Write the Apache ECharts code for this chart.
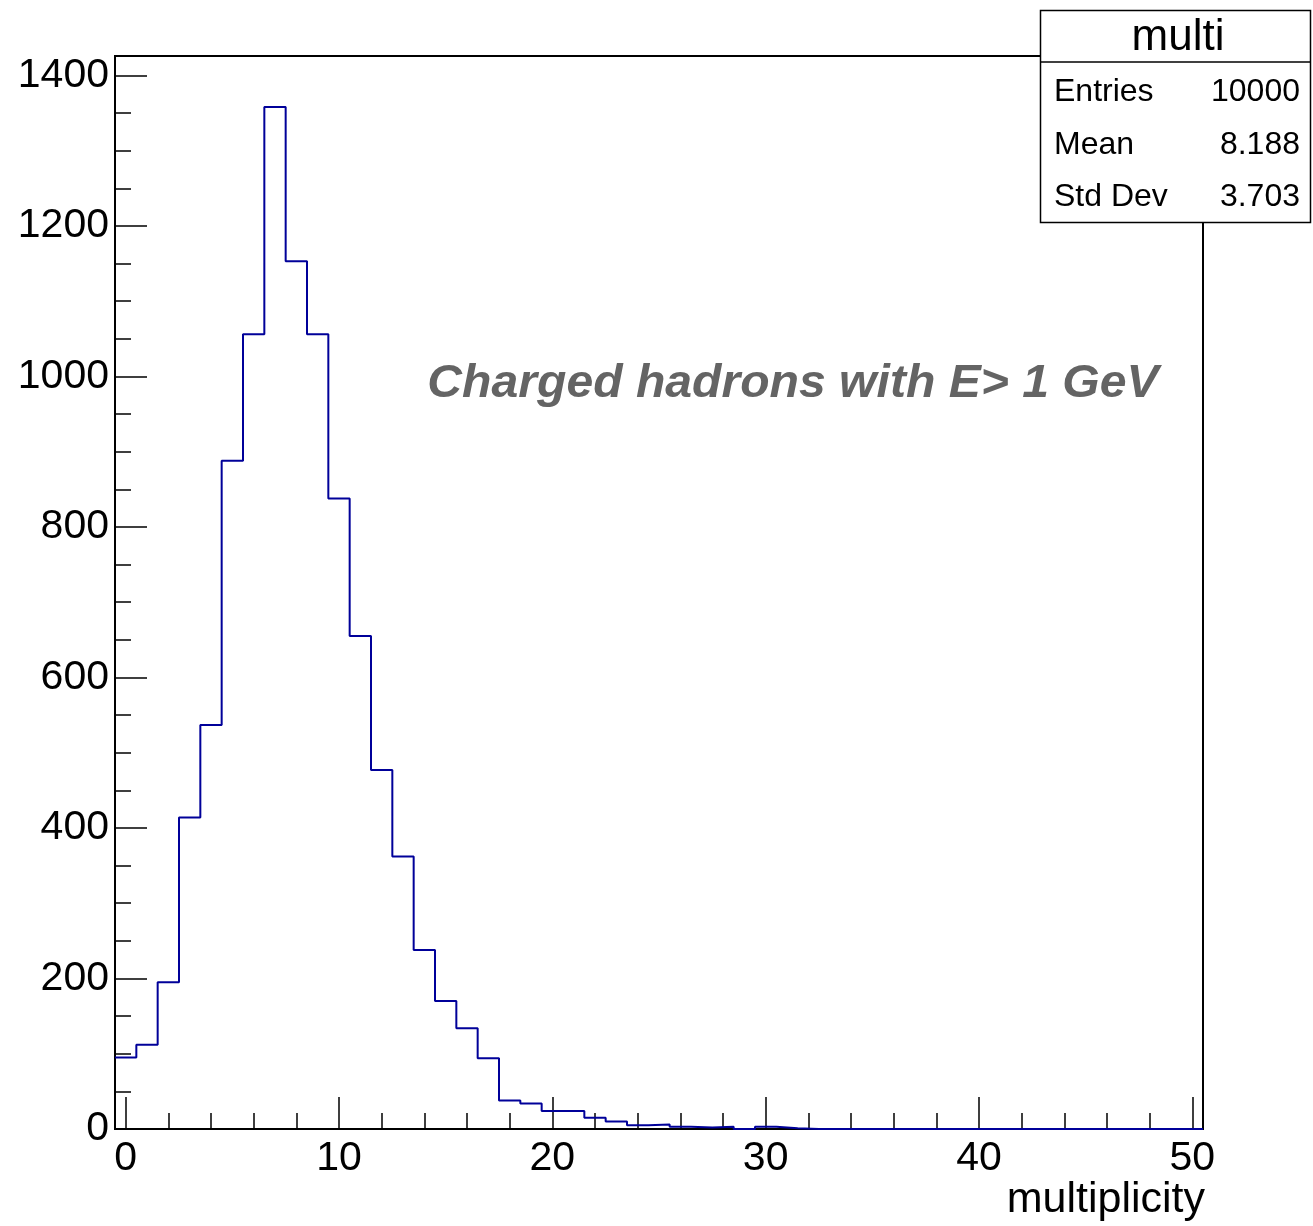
<!DOCTYPE html>
<html>
<head>
<meta charset="utf-8">
<title>multi</title>
<script src="https://cdn.jsdelivr.net/npm/echarts@6/dist/echarts.min.js"></script>
<style>
  html, body { margin: 0; padding: 0; background: #ffffff; }
  #chart { width: 1313px; height: 1226px; }
</style>
</head>
<body>
<div id="chart"></div>
<script>
// Histogram "multi": 51 unit-width bins centred on 0..50
const binLow = -0.5;
const binWidth = 1;
const counts = [
  95, 112, 195, 414, 537, 888, 1056, 1358, 1153, 1056,
  838, 655, 477, 362, 238, 170, 134, 94, 38, 34,
  24, 24, 15, 10, 5, 6, 3, 2, 3, 0,
  3, 1, 0, 0, 0, 0, 0, 0, 0, 0,
  0, 0, 0, 0, 0, 0, 0, 0, 0, 0,
  0
];

// Axis ticks and labels
const xMajorTicks = [0, 10, 20, 30, 40, 50];
const xMinorTicks = [2, 4, 6, 8, 12, 14, 16, 18, 22, 24, 26, 28, 32, 34, 36, 38, 42, 44, 46, 48];
const yMajorTicks = [0, 200, 400, 600, 800, 1000, 1200, 1400];
const yMinorTicks = [50, 100, 150, 250, 300, 350, 450, 500, 550, 650, 700, 750,
  850, 900, 950, 1050, 1100, 1150, 1250, 1300, 1350];

// Texts
const xTitle = 'multiplicity';
const noteText = 'Charged hadrons with E> 1 GeV';
const statsTitle = 'multi';
const statsNames = ['Entries', 'Mean', 'Std Dev'];
const statsValues = ['10000', '8.188', '3.703'];

const xMin = binLow;
const xMax = binLow + counts.length * binWidth;
const yMax = Math.max(...counts) * 1.05;

// Outline of the histogram: each bin contributes its two top corners
const outline = [];
counts.forEach((c, i) => {
  const lo = binLow + i * binWidth;
  outline.push([lo, c], [lo + binWidth, c]);
});

const FONT = '"Liberation Sans", Arial, Helvetica, sans-serif';
const tickStyle = { color: '#000', width: 1.5 };
const plainNumber = v => String(v);

const chart = echarts.init(document.getElementById('chart'), null, { renderer: 'canvas' });

const statsGraphics = [
  {
    type: 'rect', z: 100,
    shape: { x: 1040.5, y: 10.5, width: 270, height: 212 },
    style: { fill: '#fff', stroke: '#000', lineWidth: 1.5 }
  },
  {
    type: 'line', z: 101,
    shape: { x1: 1040.5, y1: 62, x2: 1310.5, y2: 62 },
    style: { stroke: '#000', lineWidth: 1.5 }
  },
  {
    type: 'text', z: 102, x: 1178, y: 38,
    style: { text: statsTitle, font: '44px ' + FONT, fill: '#000', align: 'center', verticalAlign: 'middle' }
  }
];
statsNames.forEach((name, i) => {
  const y = 92.5 + i * 52.5;
  statsGraphics.push({
    type: 'text', z: 102, x: 1054, y: y,
    style: { text: name, font: '32px ' + FONT, fill: '#000', align: 'left', verticalAlign: 'middle' }
  });
  statsGraphics.push({
    type: 'text', z: 102, x: 1300, y: y,
    style: { text: statsValues[i], font: '32px ' + FONT, fill: '#000', align: 'right', verticalAlign: 'middle' }
  });
});

const option = {
  animation: false,
  backgroundColor: '#ffffff',
  grid: {
    left: 115, right: 110, top: 56, bottom: 97,
    show: true, borderColor: '#000', borderWidth: 2, backgroundColor: 'transparent'
  },
  xAxis: [
    {
      type: 'value', min: xMin, max: xMax, position: 'bottom',
      axisLine: { show: true, onZero: false, lineStyle: { color: '#000', width: 2 } },
      axisTick: { show: true, inside: true, length: 32, lineStyle: tickStyle, customValues: xMajorTicks },
      axisLabel: {
        show: true, customValues: xMajorTicks, margin: 9, formatter: plainNumber,
        color: '#000', fontSize: 41, fontFamily: FONT
      },
      splitLine: { show: false }
    },
    {
      type: 'value', min: xMin, max: xMax, position: 'bottom', gridIndex: 0,
      axisLine: { show: false, onZero: false },
      axisTick: { show: true, inside: true, length: 16, lineStyle: tickStyle, customValues: xMinorTicks },
      axisLabel: { show: false },
      splitLine: { show: false }
    }
  ],
  yAxis: [
    {
      type: 'value', min: 0, max: yMax, position: 'left',
      axisLine: { show: true, onZero: false, lineStyle: { color: '#000', width: 2 } },
      axisTick: { show: true, inside: true, length: 32, lineStyle: tickStyle, customValues: yMajorTicks },
      axisLabel: {
        show: true, customValues: yMajorTicks, margin: 6, formatter: plainNumber,
        color: '#000', fontSize: 41, fontFamily: FONT
      },
      splitLine: { show: false }
    },
    {
      type: 'value', min: 0, max: yMax, position: 'left', gridIndex: 0,
      axisLine: { show: false, onZero: false },
      axisTick: { show: true, inside: true, length: 16, lineStyle: tickStyle, customValues: yMinorTicks },
      axisLabel: { show: false },
      splitLine: { show: false }
    }
  ],
  series: [
    {
      type: 'line', xAxisIndex: 0, yAxisIndex: 0,
      data: outline,
      showSymbol: false, symbol: 'none',
      lineStyle: { color: '#000099', width: 2 },
      clip: true, z: 3
    }
  ],
  graphic: [
    {
      type: 'text', z: 50, x: 793, y: 384, scaleX: 1.046,
      style: {
        text: noteText, font: 'italic bold 46px ' + FONT, fill: '#646464',
        align: 'center', verticalAlign: 'middle'
      }
    },
    {
      type: 'text', z: 50, x: 1205, y: 1200,
      style: { text: xTitle, font: '43px ' + FONT, fill: '#000', align: 'right', verticalAlign: 'middle' }
    }
  ].concat(statsGraphics)
};

chart.setOption(option);
</script>
</body>
</html>
